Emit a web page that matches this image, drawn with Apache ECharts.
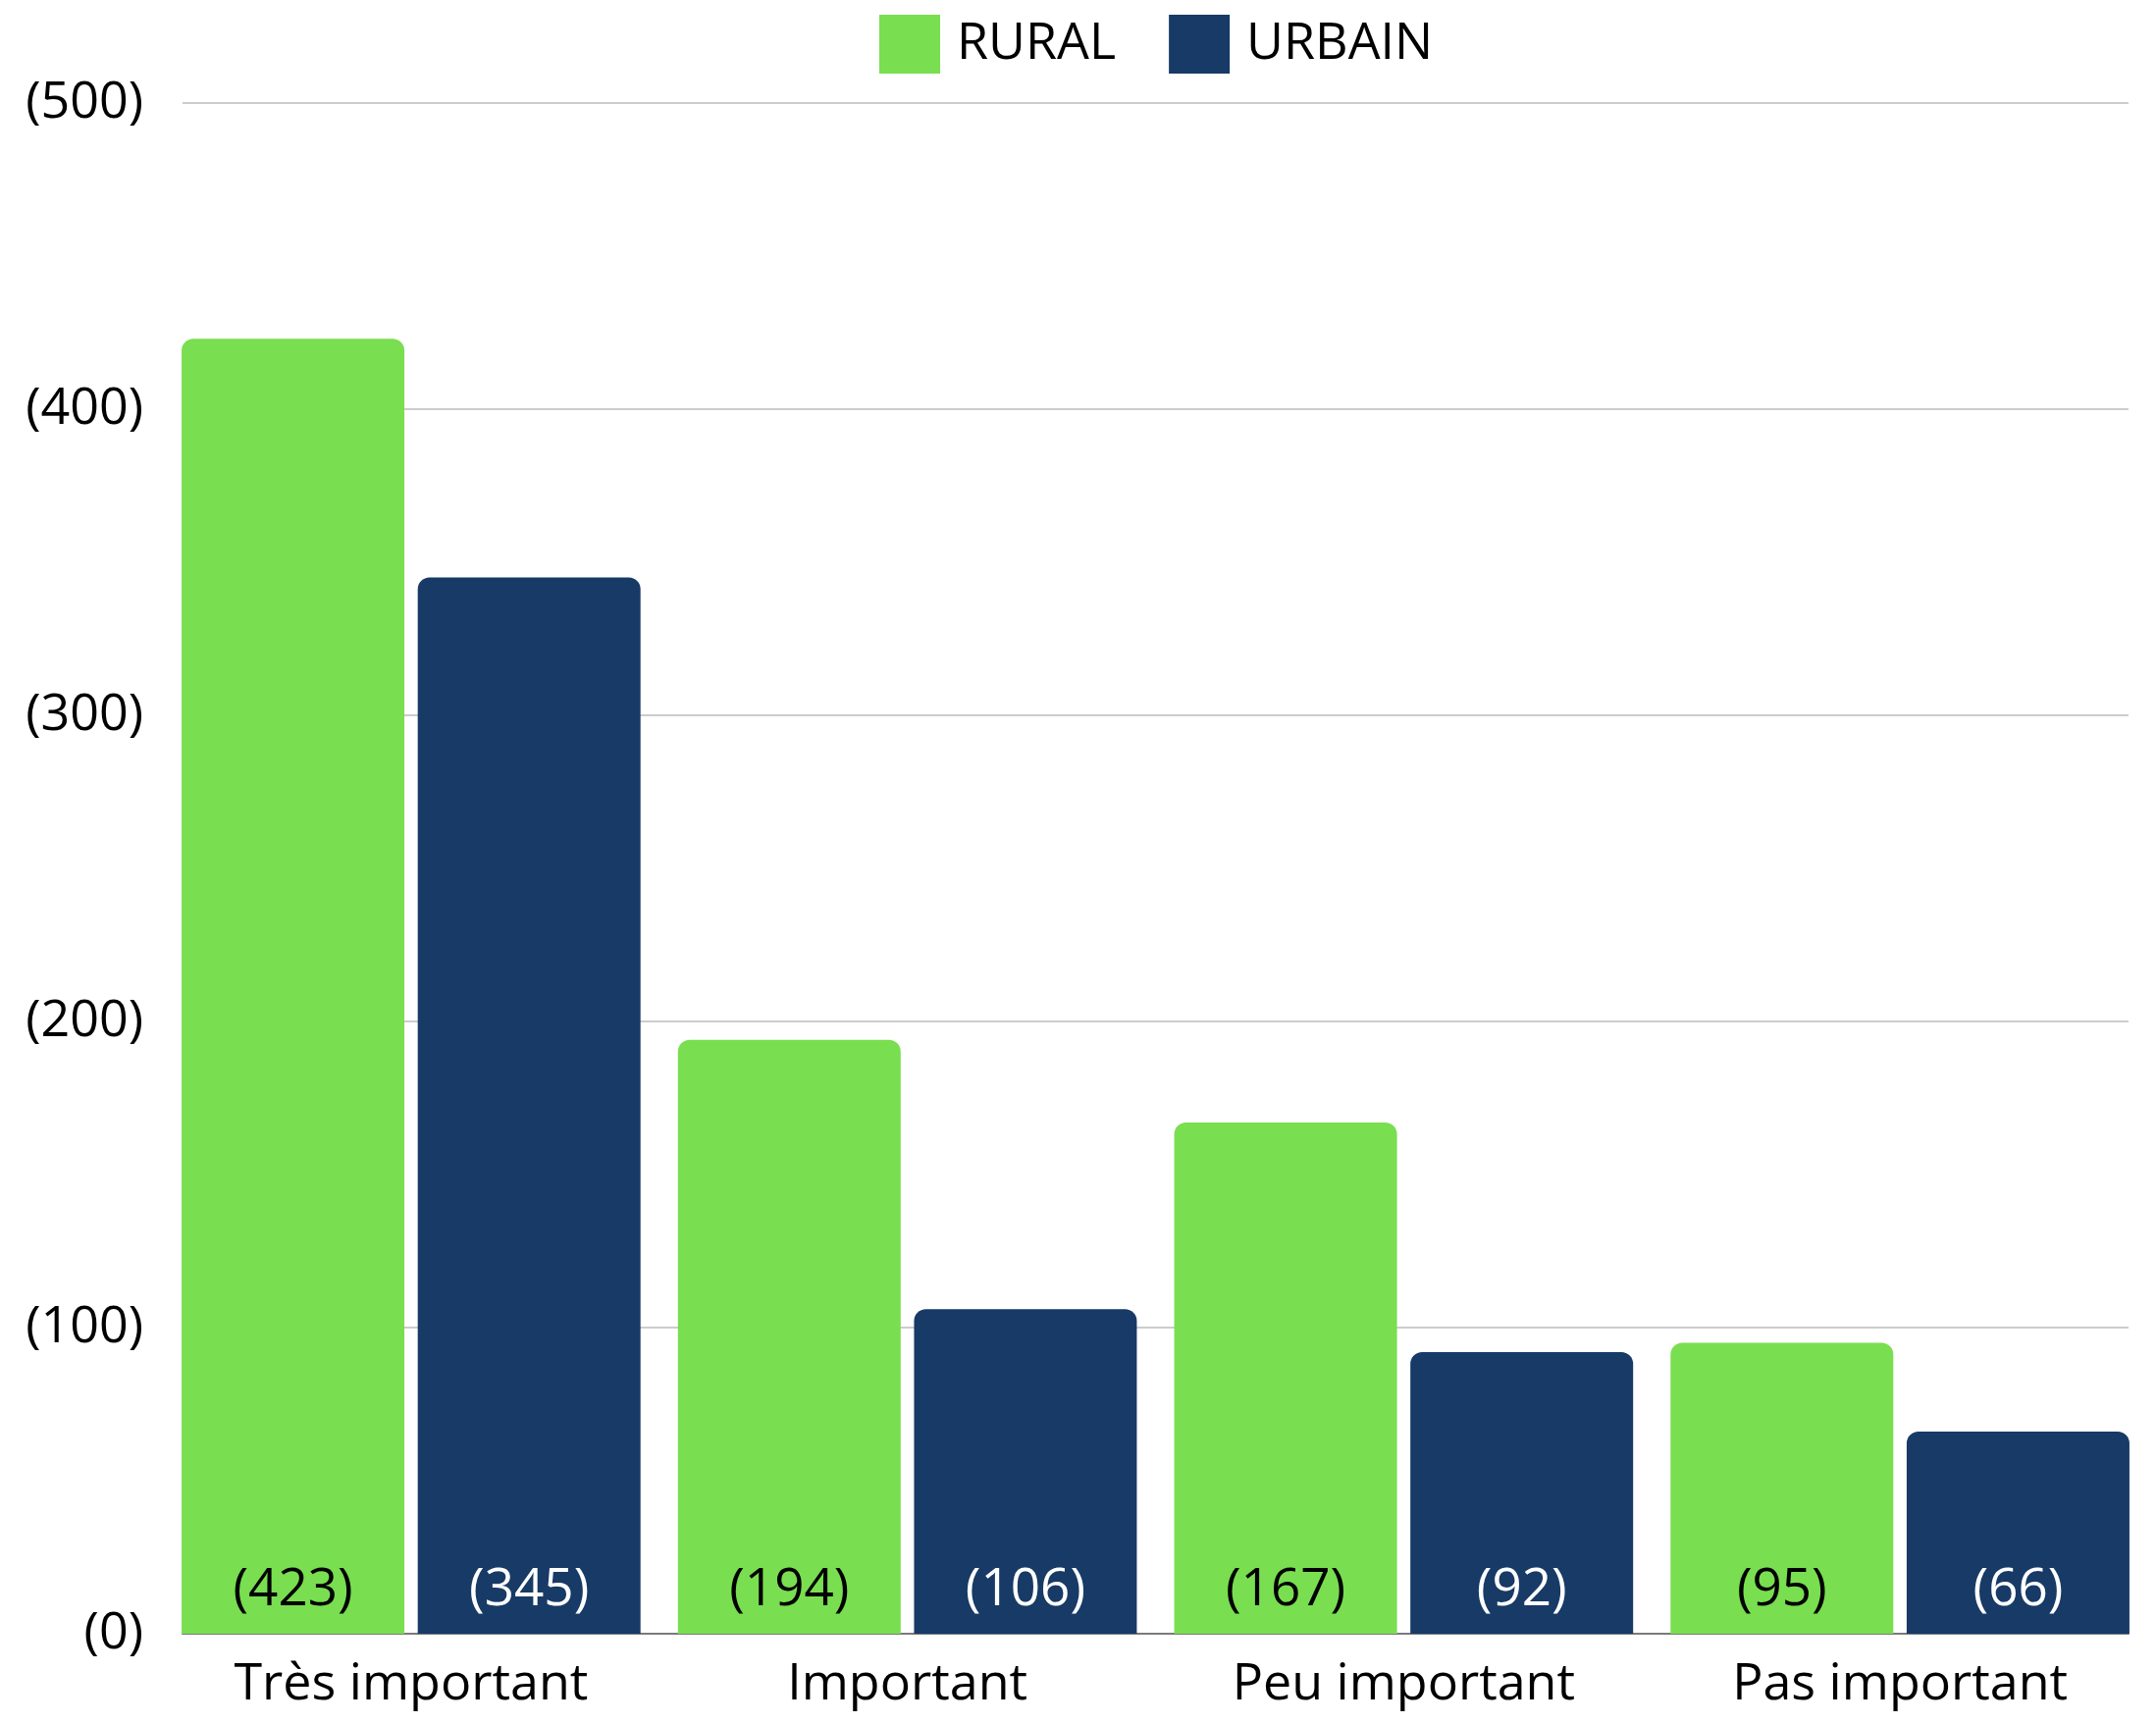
<!DOCTYPE html>
<html>
<head>
<meta charset="utf-8">
<script src="https://cdn.jsdelivr.net/npm/echarts@6/dist/echarts.min.js"></script>
<style>html,body{margin:0;padding:0;background:#fff}#c{width:2197px;height:1756px}</style>
</head>
<body>
<div id="c"></div>
<script>
const categories = ['Très important', 'Important', 'Peu important', 'Pas important'];
const rural = [423, 194, 167, 95];
const urbain = [345, 106, 92, 66];
const seriesNames = ['RURAL', 'URBAIN'];
const yTicks = [0, 100, 200, 300, 400, 500];

const GREEN = '#79DE50';
const NAVY = '#173A66';
const FONT = 'Open Sans';

const chart = echarts.init(document.getElementById('c'));
const paren = v => '(' + v + ')';

chart.setOption({
  backgroundColor: '#ffffff',
  animation: false,
  textStyle: { fontFamily: FONT },
  legend: {
    top: 10,
    left: 891,
    itemWidth: 62,
    itemHeight: 60,
    itemGap: 54,
    icon: 'rect',
    textStyle: { fontSize: 52, color: '#000', fontFamily: FONT, padding: [0, 0, 0, 12] },
    data: seriesNames
  },
  grid: [
    { left: 166, right: 8, top: 105, bottom: 91 },
    { left: 186, right: 28, top: 105, bottom: 91 }
  ],
  xAxis: [
    {
      gridIndex: 0, type: 'category', data: categories,
      axisLine: { show: false }, axisTick: { show: false },
      axisLabel: { fontSize: 52, color: '#000', margin: 26, fontFamily: FONT }
    },
    {
      gridIndex: 1, type: 'value', min: 0, max: 1,
      axisLine: { show: true, lineStyle: { color: '#7a7a7a', width: 2 } },
      axisTick: { show: false }, axisLabel: { show: false }, splitLine: { show: false }
    }
  ],
  yAxis: [
    { gridIndex: 0, type: 'value', min: yTicks[0], max: yTicks[yTicks.length - 1], interval: 100, show: false, splitLine: { show: false } },
    {
      gridIndex: 1, type: 'value', min: yTicks[0], max: yTicks[yTicks.length - 1], interval: 100,
      axisLine: { show: false }, axisTick: { show: false },
      axisLabel: { fontSize: 52, color: '#000', margin: 40, formatter: paren, fontFamily: FONT },
      splitLine: { show: true, lineStyle: { color: '#cccccc', width: 2 } }
    }
  ],
  series: [
    {
      name: seriesNames[0], type: 'bar', xAxisIndex: 0, yAxisIndex: 0, data: rural,
      barWidth: 227, barGap: '6%',
      itemStyle: { color: GREEN, borderRadius: [12, 12, 0, 0] },
      label: { show: true, position: 'insideBottom', distance: 18, formatter: p => paren(p.value), fontSize: 53, color: '#000', fontFamily: FONT }
    },
    {
      name: seriesNames[1], type: 'bar', xAxisIndex: 0, yAxisIndex: 0, data: urbain,
      barWidth: 227, barGap: '6%',
      itemStyle: { color: NAVY, borderRadius: [12, 12, 0, 0] },
      label: { show: true, position: 'insideBottom', distance: 18, formatter: p => paren(p.value), fontSize: 53, color: '#fff', fontFamily: FONT }
    }
  ]
});
</script>
</body>
</html>
